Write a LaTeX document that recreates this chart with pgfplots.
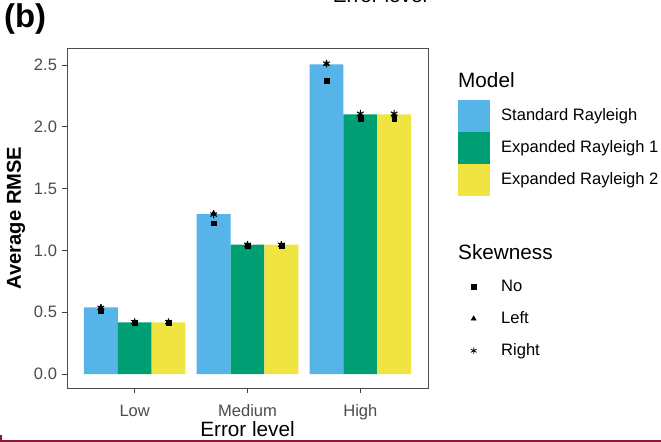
\documentclass[border=0pt]{standalone}
\usepackage{fontspec}
\setmainfont{Liberation Sans}
\usepackage{pgfplots}
\pgfplotsset{compat=1.18}

\definecolor{cblue}{HTML}{56B4E9}
\definecolor{cgreen}{HTML}{009E73}
\definecolor{cyellow}{HTML}{F0E442}
\definecolor{redline}{HTML}{8B1A3A}
\newcommand{\fsz}[1]{\fontsize{#1}{#1}\selectfont}

\pgfplotsset{
  panel/.style={
    at={(67bp,54bp)}, anchor=south west,
    width=361bp, height=340bp, scale only axis,
  },
  legbox/.style={
    draw=none, fill=none, inner sep=0pt, row sep=0pt,
    nodes={inner sep=0.5bp, font=\fsz{16.6}},
    /tikz/every odd column/.append style={column sep=11bp},
  },
  keybox/.style={legend image code/.code={\fill[##1] (0bp,-16bp) rectangle (32bp,16bp);}},
}

\begin{document}
\begin{tikzpicture}
\useasboundingbox[fill=white] (0,0) rectangle (661bp,442bp);

\begin{axis}[
  panel,
  xmin=-0.6, xmax=2.6, ymin=-0.113, ymax=2.637,
  xtick={0,1,2}, xticklabels={Low,Medium,High},
  ytick={0,0.5,1,1.5,2,2.5},
  /pgf/number format/fixed,
  /pgf/number format/fixed zerofill,
  /pgf/number format/precision=1,
  /pgf/number format/assume math mode=true,
  ticklabel style={font=\fsz{16.6}, text=black!70},
  xticklabel style={anchor=base, yshift=-24bp},
  yticklabel style={anchor=east, xshift=-2bp},
  tick align=outside, tick pos=left,
  major tick length=4.5bp,
  tick style={black!75, line width=0.8bp},
  axis line style={black!70, line width=0.9bp},
  xlabel={Error level},
  every axis x label/.style={at={(axis description cs:0.5,-0.144)}, anchor=base, inner sep=0pt, font=\fsz{20.8}},
  ylabel={Average RMSE},
  every axis y label/.style={at={(axis description cs:-0.1413,0.5)}, rotate=90, anchor=center, inner sep=0pt, font=\bfseries\fsz{20.2}},
  legend style={legbox, at={(1.0817,0.8485)}, anchor=north west},
  legend cell align=left,
]
% bars: Standard Rayleigh, Expanded Rayleigh 1, Expanded Rayleigh 2
\addplot[ybar, bar width=0.3, bar shift=0pt, fill=cblue, draw=none, keybox]
  coordinates {(-0.3,0.54) (0.7,1.294) (1.7,2.505)};
\addlegendentry{Standard Rayleigh}
\addplot[ybar, bar width=0.3, bar shift=0pt, fill=cgreen, draw=none, keybox]
  coordinates {(0,0.418) (1,1.047) (2,2.10)};
\addlegendentry{Expanded Rayleigh 1}
\addplot[ybar, bar width=0.3, bar shift=0pt, fill=cyellow, draw=none, keybox]
  coordinates {(0.3,0.418) (1.3,1.047) (2.3,2.10)};
\addlegendentry{Expanded Rayleigh 2}

% skewness points
\addplot[only marks, mark=square*, mark size=2.4bp, black, forget plot]
  coordinates {(-0.3,0.515) (0,0.415) (0.3,0.415) (0.7,1.22) (1,1.04) (1.3,1.04) (1.7,2.37) (2,2.065) (2.3,2.065)};
\addplot[only marks, mark=triangle*, mark size=3bp, black, forget plot]
  coordinates {(-0.3,0.54) (0,0.42) (0.3,0.42) (0.7,1.30) (1,1.045) (1.3,1.045) (1.7,2.51) (2,2.09) (2.3,2.09)};
\addplot[only marks, mark=asterisk, mark size=3.8bp, black, line width=1.1bp, forget plot]
  coordinates {(-0.3,0.535) (0,0.42) (0.3,0.42) (0.7,1.29) (1,1.045) (1.3,1.045) (1.7,2.51) (2,2.105) (2.3,2.105)};
\end{axis}

% second legend (Skewness)
\begin{axis}[
  panel, hide axis,
  xmin=0, xmax=1, ymin=0, ymax=1,
  legend style={legbox, at={(1.0817,0.3456)}, anchor=north west},
  legend cell align=left,
  legend image code/.code={\path[draw=none, fill=none] (0bp,-16bp) rectangle (32bp,16bp); \draw[#1] plot coordinates {(16bp,0bp)};},
]
\addlegendimage{mark=square*, mark size=2.4bp, black}
\addlegendentry{No}
\addlegendimage{mark=triangle*, mark size=2.9bp, black}
\addlegendentry{Left}
\addlegendimage{mark=asterisk, mark size=3.3bp, line width=0.8bp, black}
\addlegendentry{Right}
\end{axis}

% legend titles, panel tag, stray text and line
\node[anchor=base west, inner sep=0pt, font=\fsz{20.8}] at (458bp,354bp) {Model};
\node[anchor=base west, inner sep=0pt, font=\fsz{20.8}] at (458bp,182bp) {Skewness};
\node[anchor=base west, inner sep=0pt, font=\bfseries\fsz{33}] at (4bp,414bp) {(b)};
\node[anchor=base, inner sep=0pt, font=\fsz{20.8}] at (380bp,439bp) {Error level};
\draw[redline, line width=2bp] (0bp,1bp) -- (661bp,1bp);
\draw[redline, line width=1.5bp] (1bp,1bp) -- (1bp,7bp);
\end{tikzpicture}
\end{document}
